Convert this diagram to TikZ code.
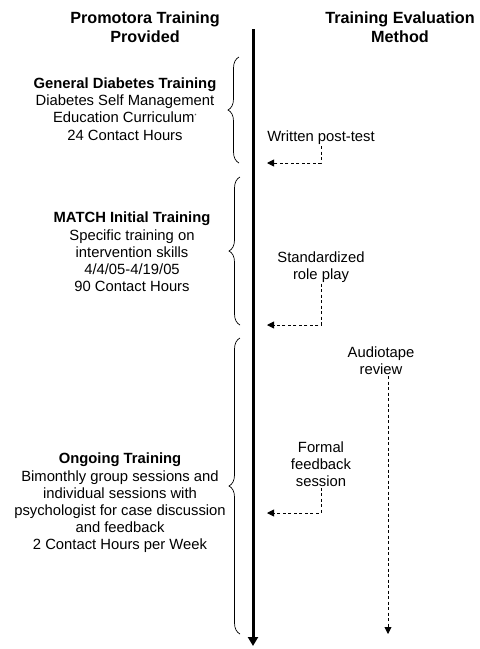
\documentclass[tikz,border=0pt]{standalone}
\usepackage{fontspec}
\setmainfont{Liberation Sans}
\usepackage{tikz}
\usetikzlibrary{calc}
\usetikzlibrary{arrows.meta,decorations.pathreplacing}

\tikzset{
  body/.style={align=center,inner sep=1pt,font=\fontsize{14.8}{17.2}\selectfont},
  heading/.style={align=center,inner sep=1pt,font=\fontsize{16.2}{19}\selectfont\bfseries},
  evalarrow/.style={dash pattern=on 3pt off 2.5pt,line width=0.9pt,-{Triangle[width=7pt,length=7pt]}},
  trainbrace/.style={decorate,decoration={brace,amplitude=11pt},line width=0.7pt}
}

\begin{document}
\begin{tikzpicture}[x=1pt,y=-1pt]
    \useasboundingbox (0,0) rectangle (480,649);
    \coordinate (Start) at (253,29);
    \coordinate (End) at (253,646);
    \draw [line width=3pt,-{Triangle[width=10pt,length=9pt]}] (Start)--(End);
    % column titles
    \node[heading] (LeftHead) at (145,27.5) {Promotora Training\\Provided};
    \node[heading] (RightHead) at (400,27.5) {Training Evaluation\\Method};
    % training blocks
    \node[body] (General) at (125,109) {\textbf{General Diabetes Training}\\Diabetes Self Management\\Education Curriculum\textsuperscript{\tiny *}\\24 Contact Hours};
    \node[body] (Match) at (132,252) {\textbf{MATCH Initial Training}\\Specific training on\\intervention skills\\4/4/05-4/19/05\\90 Contact Hours};
    \node[body] (Ongoing) at (120,503) {\textbf{Ongoing Training}\\Bimonthly group sessions and\\individual sessions with\\psychologist for case discussion\\and feedback\\2 Contact Hours per Week};
    \draw [trainbrace] (239,163)--(239,57);
    \draw [trainbrace] (240,325)--(240,177);
    \draw [trainbrace] (240,634)--(240,338);
    % evaluation methods
    \node[body] (PostTest) at (321,138) {Written post-test};
    \node[body] (RolePlay) at (321,267) {Standardized\\role play};
    \node[body] (Audio) at (381,361) {Audiotape\\review};
    \node[body] (Feedback) at (321,464) {Formal\\feedback\\session};
    \coordinate (PostTestEnd) at (267,163);
    \coordinate (RolePlayEnd) at (267,325);
    \coordinate (FeedbackEnd) at (267,513);
    \coordinate (AudioEnd) at (388,634);
    \draw [evalarrow] (PostTest.south) |- (PostTestEnd);
    \draw [evalarrow] (RolePlay.south) |- (RolePlayEnd);
    \draw [evalarrow] (Feedback.south) |- (FeedbackEnd);
    \draw [evalarrow] (Audio.south -| AudioEnd)--(AudioEnd);
  \end{tikzpicture}
\end{document}
